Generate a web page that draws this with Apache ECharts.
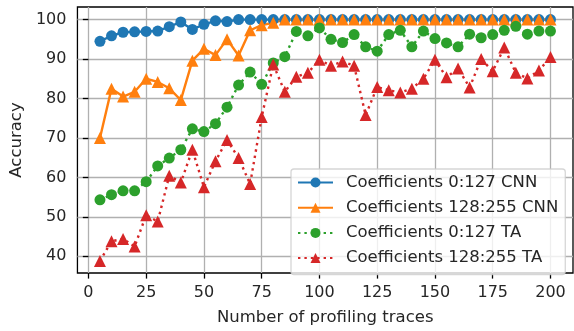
<!DOCTYPE html>
<html>
<head>
<meta charset="utf-8">
<script src="https://cdn.jsdelivr.net/npm/echarts@6/dist/echarts.min.js"></script>
<style>
  html, body { margin: 0; padding: 0; background: #fff; }
  #chart { width: 574px; height: 331px; }
</style>
</head>
<body>
<div id="chart"></div>
<script>
// Number of profiling traces used for each run
const traces = [5, 10, 15, 20, 25, 30, 35, 40, 45, 50, 55, 60, 65, 70, 75, 80, 85, 90, 95, 100,
                105, 110, 115, 120, 125, 130, 135, 140, 145, 150, 155, 160, 165, 170, 175, 180, 185, 190, 195, 200];

// Accuracy (%) per coefficient range and attack
const cnnLow = [94.5, 95.9, 96.8, 96.9, 97.0, 97.1, 98.2, 99.4, 97.5, 98.8, 99.7, 99.5, 100, 100, 100, 100, 100, 100, 100, 100,
                100, 100, 100, 100, 100, 100, 100, 100, 100, 100, 100, 100, 100, 100, 100, 100, 100, 100, 100, 100];
const cnnHigh = [70.0, 82.5, 80.5, 81.7, 85.0, 84.2, 82.6, 79.6, 89.6, 92.6, 91.0, 95.0, 90.9, 97.3, 98.6, 99.2, 100, 100, 100, 100,
                 100, 100, 100, 100, 100, 100, 100, 100, 100, 100, 100, 100, 100, 100, 100, 100, 100, 100, 100, 100];
const taLow = [54.3, 55.6, 56.6, 56.6, 58.9, 62.9, 64.9, 67.0, 72.3, 71.6, 73.6, 77.8, 83.4, 86.7, 83.6, 89.0, 90.6, 97.0, 95.9, 97.9,
               95.0, 94.2, 96.2, 93.1, 92.0, 96.2, 97.3, 93.1, 97.1, 95.2, 94.1, 93.1, 96.3, 95.4, 96.2, 97.3, 98.3, 96.3, 97.1, 97.1];
const taHigh = [38.8, 43.8, 44.4, 42.5, 50.4, 48.8, 60.4, 58.7, 67.0, 57.5, 64.1, 69.5, 64.9, 58.3, 75.3, 88.6, 81.7, 85.5, 86.5, 89.8,
                88.3, 89.4, 88.3, 75.8, 82.9, 82.1, 81.5, 82.5, 85.0, 89.8, 85.4, 87.6, 82.8, 90.0, 86.9, 92.9, 86.5, 85.1, 87.1, 90.5];

const seriesNames = ['Coefficients 0:127 CNN', 'Coefficients 128:255 CNN', 'Coefficients 0:127 TA', 'Coefficients 128:255 TA'];

// Axis ticks
const xTicks = [0, 25, 50, 75, 100, 125, 150, 175, 200];
const yTicks = [40, 50, 60, 70, 80, 90, 100];

const FONT = 'DejaVu Sans';
const TEXT = '#262626';
const DOTS = [2.4, 4];

function pairs(values) {
  return traces.map((t, i) => [t, values[i]]);
}

function lineSeries(name, values, color, symbol, size, dashed) {
  return {
    name: name,
    type: 'line',
    data: pairs(values),
    symbol: symbol,
    symbolSize: size,
    showSymbol: true,
    itemStyle: { color: color },
    lineStyle: { color: color, width: 2.4, type: dashed ? DOTS : 'solid', cap: 'butt' },
    emphasis: { disabled: true },
    z: 3
  };
}

const chart = echarts.init(document.getElementById('chart'), null, { renderer: 'canvas' });

chart.setOption({
  animation: false,
  backgroundColor: '#ffffff',
  textStyle: { fontFamily: FONT },
  grid: {
    left: 77, right: 1, top: 7, bottom: 52,
    show: true, borderColor: '#000', borderWidth: 1.3, backgroundColor: 'transparent'
  },
  xAxis: {
    type: 'value',
    min: -4.75, max: 209.75,
    name: 'Number of profiling traces',
    nameLocation: 'middle',
    nameGap: 36,
    nameTextStyle: { fontFamily: FONT, fontSize: 16.5, color: TEXT },
    axisLine: { show: false },
    axisTick: { show: true, length: 5.6, lineStyle: { color: '#000', width: 1.3 }, customValues: xTicks },
    axisLabel: { fontFamily: FONT, fontSize: 16, color: TEXT, margin: 12, customValues: xTicks },
    splitLine: { show: true, lineStyle: { color: '#b0b0b0', width: 1.3 } }
  },
  yAxis: {
    type: 'value',
    min: 35.75, max: 103.2,
    name: 'Accuracy',
    nameLocation: 'middle',
    nameRotate: 90,
    nameGap: 50,
    nameTextStyle: { fontFamily: FONT, fontSize: 16.5, color: TEXT },
    axisLine: { show: false },
    axisTick: { show: true, length: 5.6, lineStyle: { color: '#000', width: 1.3 }, customValues: yTicks },
    axisLabel: { fontFamily: FONT, fontSize: 16, color: TEXT, margin: 11, customValues: yTicks },
    splitLine: { show: true, lineStyle: { color: '#b0b0b0', width: 1.3 } }
  },
  legend: {
    data: seriesNames,
    orient: 'vertical',
    left: 291,
    top: 169,
    itemWidth: 35,
    itemHeight: 12.5,
    itemGap: 8.2,
    padding: [5, 7, 8, 6],
    backgroundColor: 'rgba(255,255,255,0.8)',
    borderColor: 'rgba(204,204,204,0.8)',
    borderWidth: 1.3,
    borderRadius: 3,
    textStyle: { fontFamily: FONT, fontSize: 16.5, color: TEXT, lineHeight: 16, padding: [0, 0, 0, 8] },
    selectedMode: false
  },
  series: [
    lineSeries(seriesNames[0], cnnLow, '#1f77b4', 'circle', 11, false),
    lineSeries(seriesNames[1], cnnHigh, '#ff7f0e', 'triangle', 12, false),
    lineSeries(seriesNames[2], taLow, '#2ca02c', 'circle', 11, true),
    lineSeries(seriesNames[3], taHigh, '#d62728', 'triangle', 12, true)
  ]
});
</script>
</body>
</html>
